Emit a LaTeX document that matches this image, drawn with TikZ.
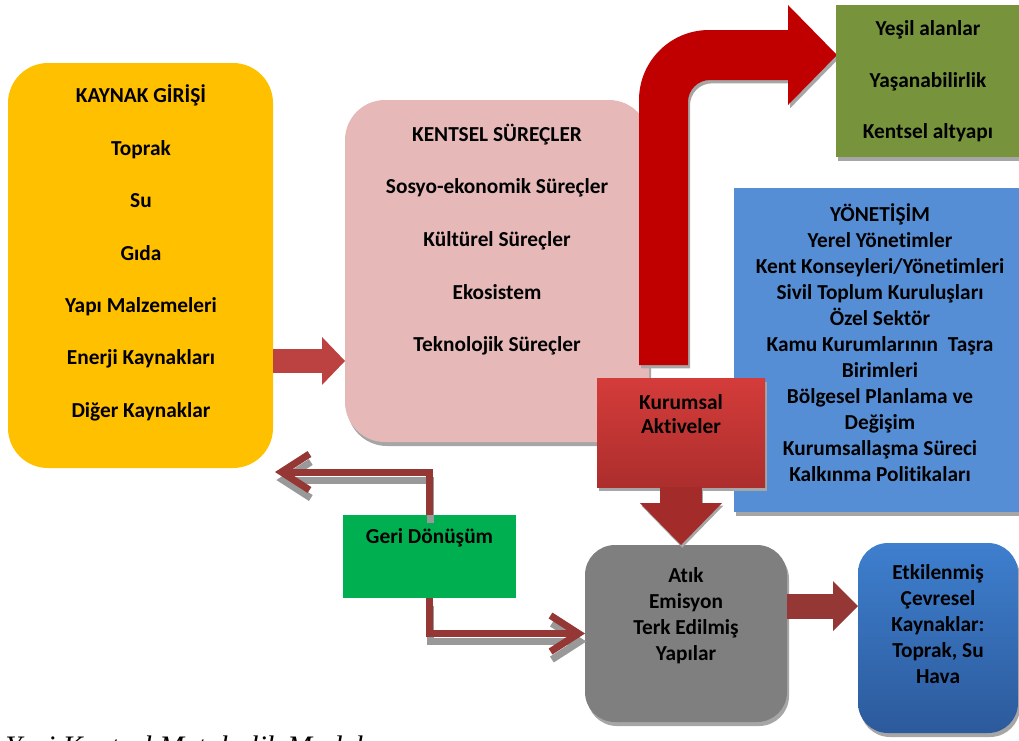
\documentclass[tikz,border=0pt]{standalone}
\usepackage{fontspec}
\setmainfont{Carlito}[Ligatures=NoCommon]
\newfontfamily\capfont{Liberation Serif}
\usetikzlibrary{arrows.meta,shadows}

\definecolor{kaynakyellow}{HTML}{FFC000}
\definecolor{surecpink}{HTML}{E6B9B8}
\definecolor{bigred}{HTML}{C00000}
\definecolor{yesilgreen}{HTML}{77933C}
\definecolor{yonetimblue}{HTML}{558ED5}
\definecolor{atikgray}{HTML}{7F7F7F}
\definecolor{geriGreen}{HTML}{00B050}
\definecolor{darkarrow}{HTML}{953735}
\definecolor{inarrow}{HTML}{BB4240}
\definecolor{downarrow}{HTML}{A32C2B}

\tikzset{
  box/.style={inner sep=0pt, outer sep=0pt},
  shade box/.style={drop shadow={shadow xshift=1.5pt, shadow yshift=-3pt, opacity=1, fill=black!35}},
  boxtext/.style={font=\bfseries\fontsize{16}{#1}\selectfont, align=center, inner sep=0pt},
  boxtext/.default=19.5,
  blockarrow/.style={line width=#1},
  thinarrow/.style={line width=5.25pt, line join=miter,
    -{Straight Barb[length=21pt, width=27pt]}}
}

\begin{document}
\begin{tikzpicture}[x=0.75pt,y=-0.75pt]
\useasboundingbox (0,0) rectangle (1019,740);

% boxes
\node[box, fill=kaynakyellow, rounded corners=30pt, minimum width=198.75pt, minimum height=303.75pt] (kaynak) at (140.5,265.5) {};
\node[boxtext=39.3] (kaynakT) at (141,253) {KAYNAK GİRİŞİ\\Toprak\\Su\\Gıda\\Yapı Malzemeleri\\Enerji Kaynakları\\Diğer Kaynaklar};

\node[box, shade box, fill=surecpink, rounded corners=30pt, minimum width=228pt, minimum height=256.5pt] (surec) at (497,271) {};
\node[boxtext=39.5] (surecT) at (497,239.5) {KENTSEL SÜREÇLER\\Sosyo-ekonomik Süreçler\\Kültürel Süreçler\\Ekosistem\\Teknolojik Süreçler};

% big bent arrow
\fill[bigred, drop shadow={shadow xshift=1.5pt, shadow yshift=-2.5pt, opacity=1, fill=black!35}]
  (639,365) -- (639,100) .. controls (639,61.3) and (670.3,30) .. (709,30)
  -- (788,30) -- (788,5) -- (837,55) -- (788,105) -- (788,80) -- (710,80)
  .. controls (697.8,80) and (688,89.8) .. (688,102) -- (688,365) -- cycle;

\node[box, shade box, fill=yesilgreen, minimum width=138pt, minimum height=114pt] (yesil) at (928,81) {};
\node[boxtext=38.6] (yesilT) at (928,81.5) {Yeşil alanlar\\Yaşanabilirlik\\Kentsel altyapı};

\node[box, shade box, fill=yonetimblue, minimum width=219pt, minimum height=243pt] (yonetim) at (880,350) {};
\node[boxtext] (yonetimT) at (880,342.5) {YÖNETİŞİM\\Yerel Yönetimler\\Kent Konseyleri/Yönetimleri\\Sivil Toplum Kuruluşları\\Özel Sektör\\Kamu Kurumlarının~ Taşra\\Birimleri\\Bölgesel Planlama ve\\Değişim\\Kurumsallaşma Süreci\\Kalkınma Politikaları};

\node[box, shade box, top color={rgb,255:red,212;green,60;blue,58}, bottom color={rgb,255:red,172;green,46;blue,45}, minimum width=126pt, minimum height=81.75pt] (kurumsal) at (681,432.5) {};
\node[boxtext=18] (kurumsalT) at (681,414) {Kurumsal\\Aktiveler};

\node[box, shade box, fill=atikgray, rounded corners=22.5pt, minimum width=151.5pt, minimum height=132.75pt] (atik) at (686,633.5) {};
\node[boxtext] (atikT) at (686,616) {Atık\\Emisyon\\Terk Edilmiş\\Yapılar};

\node[box, shade box, top color={rgb,255:red,62;green,127;blue,206}, bottom color={rgb,255:red,44;green,90;blue,156}, rounded corners=22.5pt, minimum width=120pt, minimum height=142.5pt] (etki) at (938,638) {};
\node[boxtext] (etkiT) at (938,624.5) {Etkilenmiş\\Çevresel\\Kaynaklar:\\Toprak, Su\\Hava};

\node[box, fill=geriGreen, minimum width=129.75pt, minimum height=62.25pt] (geri) at (429.5,556.5) {};
\node[boxtext] (geriT) at (429.5,538) {Geri Dönüşüm};

% arrows
\coordinate (girisout) at ([yshift=-71.6pt]kaynak.east);
\draw[blockarrow=18pt, inarrow, -{Triangle[length=17.25pt, width=36pt, line width=0pt]}] (girisout) -- (girisout -| surec.west);

\begin{scope}[transform canvas={xshift=1pt, yshift=-2pt}]
\draw[blockarrow=31.5pt, black!35, -{Triangle[length=31.5pt, width=61.5pt, line width=0pt]}] (kurumsal.south) -- (kurumsal.south |- atik.north);
\end{scope}
\draw[blockarrow=31.5pt, downarrow, -{Triangle[length=31.5pt, width=61.5pt, line width=0pt]}] (kurumsal.south) -- (kurumsal.south |- atik.north);

\coordinate (emisout) at ([yshift=20.6pt]atik.east);
\draw[blockarrow=18.75pt, darkarrow, -{Triangle[length=18.75pt, width=37.5pt, line width=0pt]}] (emisout) -- (emisout -| etki.west);

% recycling arrows with shadow
\begin{scope}[transform canvas={xshift=1pt, yshift=-6pt}]
\draw[thinarrow, black!40] (geri.north) |- ([shift={(2,4)}]kaynak.south east);
\draw[thinarrow, black!40] (geri.south) |- (atik.west);
\end{scope}
\draw[thinarrow, darkarrow] (geri.north) |- ([shift={(2,4)}]kaynak.south east);
\draw[thinarrow, darkarrow] (geri.south) |- (atik.west);

% caption
\node[font=\capfont\itshape\fontsize{22.3}{26}\selectfont, anchor=base west, inner sep=0pt] (baslik) at (5,756) {Yeni Kentsel Metabolik Model};
\end{tikzpicture}
\end{document}
